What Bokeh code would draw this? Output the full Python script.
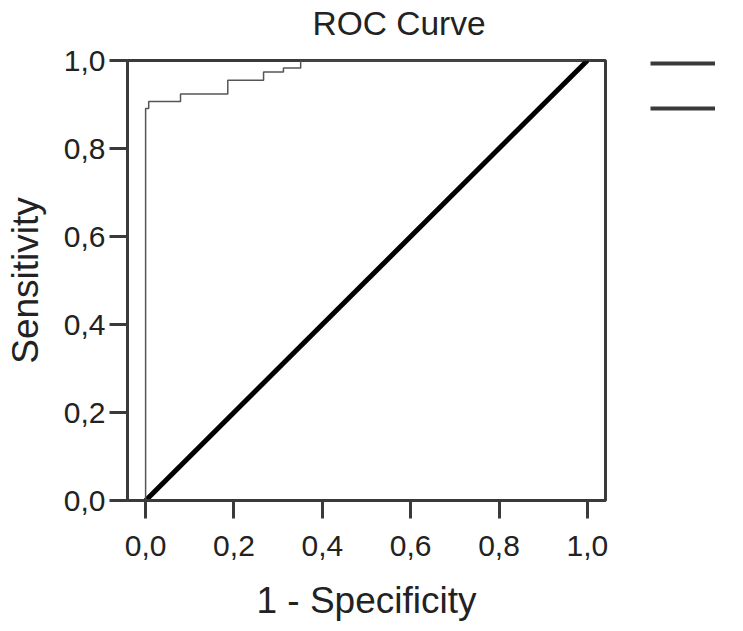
from bokeh.plotting import figure
from bokeh.layouts import row
from bokeh.models import Range1d, FixedTicker, Legend, LegendItem, Title
from bokeh.core.properties import value
from bokeh.embed import file_html
from bokeh.resources import INLINE

# ROC points (1 - specificity, sensitivity): sensitivity rises to y at fpr x
roc_fpr = [0.0, 0.0, 0.007, 0.079, 0.186, 0.267, 0.312, 0.351, 1.0]
roc_tpr = [0.0, 0.891, 0.907, 0.924, 0.955, 0.974, 0.983, 1.0, 1.0]

# reference (chance) line
ref_x = [0.0, 1.0]
ref_y = [0.0, 1.0]

tick_values = [0.0, 0.2, 0.4, 0.6, 0.8, 1.0]
tick_labels = ["0,0", "0,2", "0,4", "0,6", "0,8", "1,0"]
legend_labels = ["Curve", "Reference Line"]

FONT = "Liberation Sans"
TXT = "#222222"
AX = "#3a3a3a"

p = figure(width=610, height=623, output_backend="svg", toolbar_location=None,
           x_range=Range1d(-0.041, 1.041), y_range=Range1d(0.0, 1.0),
           min_border_left=127, min_border_right=5, min_border_top=60,
           min_border_bottom=121)

# small spacer between title and frame
p.add_layout(Title(text=" ", text_font_size="1px", standoff=16), "above")

p.title.text = "ROC Curve"
p.title.text_font = FONT
p.title.text_font_size = "33.5px"
p.title.text_font_style = "normal"
p.title.text_color = TXT
p.title.align = "left"
p.title.offset = 185
p.title.standoff = 0

p.xgrid.visible = False
p.ygrid.visible = False
p.background_fill_color = "white"
p.border_fill_color = "white"
p.outline_line_color = AX
p.outline_line_width = 3

overrides = dict(zip(tick_values, tick_labels))
for ax in (p.xaxis[0], p.yaxis[0]):
    ax.ticker = FixedTicker(ticks=tick_values)
    ax.major_label_overrides = overrides
    ax.minor_tick_line_color = None
    ax.major_tick_in = 0
    ax.major_tick_out = 18
    ax.major_tick_line_width = 3
    ax.major_tick_line_color = AX
    ax.axis_line_width = 3
    ax.axis_line_color = AX
    ax.major_label_text_font = FONT
    ax.major_label_text_font_size = "30px"
    ax.major_label_text_color = TXT
    ax.axis_label_text_font = FONT
    ax.axis_label_text_font_size = "37px"
    ax.axis_label_text_font_style = "normal"
    ax.axis_label_text_color = TXT

p.xaxis.axis_label = "1 - Specificity"
p.yaxis.axis_label = "Sensitivity"
p.xaxis.major_label_standoff = 17
p.yaxis.major_label_standoff = 4
p.xaxis.axis_label_standoff = 21
p.yaxis.axis_label_standoff = 15

# reference line (thick black)
p.line(ref_x, ref_y, line_color="black", line_width=5)
# ROC curve (thin, step)
p.step(roc_fpr, roc_tpr, mode="after", line_color="#555555", line_width=1.5)

# legend area to the right of the chart (its labels are cut off in the reference)
pl = figure(width=125, height=623, output_backend="svg", toolbar_location=None,
            x_axis_location=None, y_axis_location=None,
            x_range=Range1d(2, 3), y_range=Range1d(2, 3),
            min_border_left=0, min_border_right=0, min_border_top=0,
            min_border_bottom=0)
pl.xgrid.visible = False
pl.ygrid.visible = False
pl.outline_line_color = None
pl.background_fill_color = "white"
pl.border_fill_color = "white"
# keys lie outside the view; they only supply the legend line style
key_a = pl.line(ref_x, ref_y, line_color="#3a3a3a", line_width=4)
key_b = pl.line(ref_x, ref_y, line_color="#3a3a3a", line_width=4)
legend = Legend(items=[LegendItem(label=value(legend_labels[0]), renderers=[key_a]),
                       LegendItem(label=value(legend_labels[1]), renderers=[key_b])],
                location="top_right", glyph_width=65, glyph_height=6,
                spacing=39, padding=0, margin=0, label_standoff=0,
                border_line_color=None, background_fill_alpha=0,
                label_text_font_size="1px", label_text_alpha=0)
pl.add_layout(legend, "center")

layout = row(p, pl)
open("out.html", "w").write(file_html(layout, INLINE))
